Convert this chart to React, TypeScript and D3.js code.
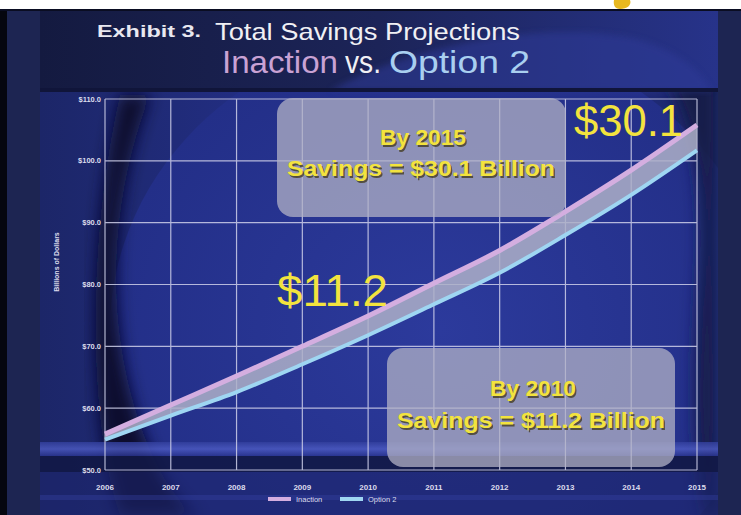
import React from "react";
import * as d3 from "d3";

const years = [2006, 2007, 2008, 2009, 2010, 2011, 2012, 2013, 2014, 2015];
const inaction = [55.8, 60.5, 65.2, 70.0, 74.9, 80.2, 85.5, 91.8, 98.5, 105.8];
const option2 = [54.9, 58.8, 62.6, 67.1, 71.8, 76.8, 81.9, 88.0, 94.5, 101.7];
const yTicks = [50, 60, 70, 80, 90, 100, 110];
const seriesNames = ["Inaction", "Option 2"];

const W = 741;
const H = 515;

export default function App() {
  const x = d3.scaleLinear().domain([2006, 2015]).range([105, 697]);
  const y = d3.scaleLinear().domain([50, 110]).range([470, 99]);
  const pts = years.map((yr, i) => ({ yr, a: inaction[i], b: option2[i] }));
  const lineA = d3.line<any>().x((d) => x(d.yr)).y((d) => y(d.a)).curve(d3.curveMonotoneX);
  const lineB = d3.line<any>().x((d) => x(d.yr)).y((d) => y(d.b)).curve(d3.curveMonotoneX);
  const band = d3
    .area<any>()
    .x((d) => x(d.yr))
    .y0((d) => y(d.b))
    .y1((d) => y(d.a))
    .curve(d3.curveMonotoneX);

  const yellow = "#f3e33e";
  const shadow = "#3a3210";
  const font = "'Liberation Sans', Arial, sans-serif";

  const shadowText = (tx: number, ty: number, txt: string, size: number, len?: number) => (
    <g>
      <text
        x={tx + 1.5}
        y={ty + 1.5}
        textAnchor="middle"
        fontFamily={font}
        fontWeight="bold"
        fontSize={size}
        fill={shadow}
        opacity={0.7}
        textLength={len}
        lengthAdjust="spacingAndGlyphs"
      >
        {txt}
      </text>
      <text
        x={tx}
        y={ty}
        textAnchor="middle"
        fontFamily={font}
        fontWeight="bold"
        fontSize={size}
        fill={yellow}
        textLength={len}
        lengthAdjust="spacingAndGlyphs"
      >
        {txt}
      </text>
    </g>
  );

  return (
    <svg
      width={W}
      height={H}
      style={{ position: "absolute", left: 0, top: 0 }}
      viewBox={`0 0 ${W} ${H}`}
    >
      <defs>
        <linearGradient id="slide" x1="0" y1="0" x2="1" y2="0">
          <stop offset="0" stopColor="#1c2668" />
          <stop offset="0.4" stopColor="#24308a" />
          <stop offset="1" stopColor="#1d2870" />
        </linearGradient>
        <linearGradient id="titleBand" x1="0" y1="0" x2="1" y2="0">
          <stop offset="0" stopColor="#141a40" />
          <stop offset="0.5" stopColor="#1c2458" />
          <stop offset="1" stopColor="#27338a" />
        </linearGradient>
        <radialGradient id="glow" cx="0.5" cy="0.5" r="0.5">
          <stop offset="0" stopColor="#2c3a9c" />
          <stop offset="1" stopColor="#232f88" />
        </radialGradient>
        <linearGradient id="streak" x1="0" y1="0" x2="0" y2="1">
          <stop offset="0" stopColor="#33409e" />
          <stop offset="0.5" stopColor="#4e5cc4" />
          <stop offset="1" stopColor="#2a3590" />
        </linearGradient>
        <filter id="blur8">
          <feGaussianBlur stdDeviation="8" />
        </filter>
        <filter id="blur3">
          <feGaussianBlur stdDeviation="3" />
        </filter>
        <clipPath id="slideClip">
          <rect x={40} y={11} width={678} height={504} />
        </clipPath>
      </defs>

      {/* outer framing */}
      <rect x={0} y={0} width={W} height={H} fill="#ffffff" />
      <rect x={0} y={10} width={W} height={H - 10} fill="#05060f" />
      <rect x={7} y={10} width={W - 7} height={H - 10} fill="#1d2552" />
      <path d="M614,0 L630,0 C632,5 627,9 620,9 C615,9 613,5 614,0 Z" fill="#e8b820" />
      <rect x={0} y={9} width={W} height={2} fill="#0a0d22" />

      {/* slide background */}
      <g clipPath="url(#slideClip)">
        <rect x={40} y={11} width={678} height={504} fill="url(#slide)" />
        <ellipse cx={440} cy={330} rx={330} ry={300} fill="url(#glow)" />
        <path
          d="M150,95 C110,200 100,330 150,450 C170,495 190,515 205,515 L120,515 C90,430 85,250 120,95 Z"
          fill="#0b0f2e"
          filter="url(#blur8)"
        />
        <path
          d="M600,11 C680,60 705,150 700,260 C695,360 690,440 705,515 L718,515 L718,11 Z"
          fill="#141b4a"
          filter="url(#blur8)"
        />
        <rect x={40} y={11} width={678} height={80} fill="url(#titleBand)" />
        <path
          d="M330,91 C420,40 560,20 640,40 C690,55 705,80 712,91 Z"
          fill="#2e3a98"
          opacity={0.55}
          filter="url(#blur3)"
        />
        <rect x={40} y={88} width={678} height={4} fill="#10153a" />
        <rect x={40} y={442} width={678} height={14} fill="url(#streak)" opacity={0.8} />
        <rect x={40} y={456} width={678} height={16} fill="#121846" opacity={0.9} />
        <rect x={40} y={472} width={678} height={43} fill="#1c256a" opacity={0.6} />
        <rect x={40} y={495} width={678} height={5} fill="#3a46a8" opacity={0.35} />
      </g>

      {/* title */}
      <text x={97} y={37} fontFamily={font} fontWeight="bold" fontSize={16} fill="#e8e8f0" textLength={104} lengthAdjust="spacingAndGlyphs">
        Exhibit 3.
      </text>
      <text x={215} y={40} fontFamily={font} fontSize={24} fill="#f0f0f4" textLength={305} lengthAdjust="spacingAndGlyphs">
        Total Savings Projections
      </text>
      <text x={222} y={73} fontFamily={font} fontSize={32} fill="#c9a2d4" textLength={116} lengthAdjust="spacingAndGlyphs">
        Inaction
      </text>
      <text x={345} y={73} fontFamily={font} fontSize={32} fill="#f0f0f4" textLength={36} lengthAdjust="spacingAndGlyphs">
        vs.
      </text>
      <text x={389} y={73} fontFamily={font} fontSize={32} fill="#a9cff0" textLength={141} lengthAdjust="spacingAndGlyphs">
        Option 2
      </text>

      {/* grid */}
      <g stroke="#cfd0ea" strokeWidth={1.2} opacity={0.85}>
        {yTicks.map((t) => (
          <line key={"h" + t} x1={x(2006)} x2={x(2015)} y1={y(t)} y2={y(t)} />
        ))}
        {years.map((yr) => (
          <line key={"v" + yr} x1={x(yr)} x2={x(yr)} y1={y(110)} y2={y(50)} />
        ))}
      </g>

      {yTicks.map((t) => (
        <text
          key={"yl" + t}
          x={101}
          y={y(t) + 2.5}
          textAnchor="end"
          fontFamily={font}
          fontWeight="bold"
          fontSize={7.5}
          fill="#dcdcec"
        >
          {"$" + t.toFixed(1)}
        </text>
      ))}
      {years.map((yr) => (
        <text
          key={"xl" + yr}
          x={x(yr)}
          y={490}
          textAnchor="middle"
          fontFamily={font}
          fontWeight="bold"
          fontSize={8}
          fill="#dcdcec"
        >
          {yr}
        </text>
      ))}
      <text
        transform={`translate(59,262) rotate(-90)`}
        textAnchor="middle"
        fontFamily={font}
        fontWeight="bold"
        fontSize={7}
        fill="#dcdcec"
      >
        Billions of Dollars
      </text>

      {/* series */}
      <path d={band(pts) || ""} fill="#aeb0c8" opacity={0.85} />
      <path d={lineB(pts) || ""} fill="none" stroke="#9fd6f2" strokeWidth={4} />
      <path d={lineA(pts) || ""} fill="none" stroke="#d4aee0" strokeWidth={5} />

      {/* annotation boxes */}
      <rect x={277} y={98} width={289} height={119} rx={16} fill="#b2b2c6" opacity={0.75} />
      <rect x={387} y={348} width={288} height={119} rx={16} fill="#b2b2c6" opacity={0.75} />
      {shadowText(423, 145, "By 2015", 22, 86)}
      {shadowText(421, 176, "Savings = $30.1 Billion", 22, 268)}
      {shadowText(533, 396, "By 2010", 22, 86)}
      {shadowText(531, 428, "Savings = $11.2 Billion", 22, 268)}

      <text x={574} y={136} fontFamily={font} fontSize={44} fill={yellow} textLength={109} lengthAdjust="spacingAndGlyphs">
        $30.1
      </text>
      <text x={277} y={306} fontFamily={font} fontSize={44} fill={yellow} textLength={111} lengthAdjust="spacingAndGlyphs">
        $11.2
      </text>

      {/* legend */}
      <line x1={268} x2={291} y1={499} y2={499} stroke="#d4aee0" strokeWidth={4} />
      <text x={296} y={502} fontFamily={font} fontSize={7.5} fill="#dcdcec">
        {seriesNames[0]}
      </text>
      <line x1={340} x2={363} y1={499} y2={499} stroke="#9fd6f2" strokeWidth={4} />
      <text x={368} y={502} fontFamily={font} fontSize={7.5} fill="#dcdcec">
        {seriesNames[1]}
      </text>
    </svg>
  );
}
